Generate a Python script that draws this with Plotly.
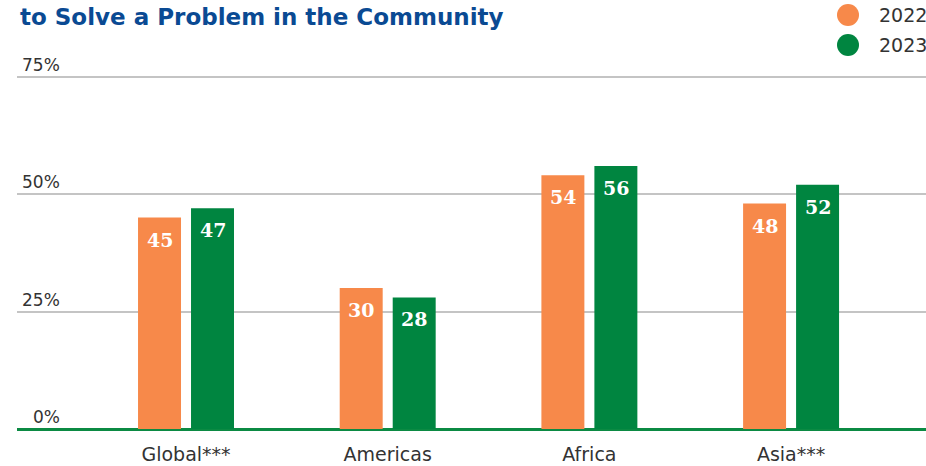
import plotly.graph_objects as go

# Share of respondents, by region and survey year (%)
regions = ["Global***", "Americas", "Africa", "Asia***"]
values_2022 = [45, 30, 54, 48]
values_2023 = [47, 28, 56, 52]
years = ["2022", "2023"]
y_ticks = [0, 25, 50, 75]
y_tick_labels = ["0%", "25%", "50%", "75%"]

ORANGE = "#F7894A"
GREEN = "#008540"
TEXT = "#333333"
FONT = "DejaVu Sans"

# pixel geometry of the plot area
W, H = 926, 466
M_L, M_R, M_T, M_B = 17, 0, 72, 37
PLOT_H = H - M_T - M_B
BAR_OFFSET = 26.5  # px from category centre to each bar centre


def py_to_paper(py):
    return (H - M_B - py) / PLOT_H


fig = go.Figure()

series = [(years[0], values_2022, ORANGE, -BAR_OFFSET),
          (years[1], values_2023, GREEN, BAR_OFFSET)]

for name, vals, color, dx in series:
    fig.add_trace(go.Bar(
        x=regions, y=vals, name=name, marker=dict(color=color, line=dict(width=0)),
        showlegend=False,
    ))
    # value labels just inside the top of each bar
    for r, v in zip(regions, vals):
        fig.add_annotation(
            x=r, y=v, xref="x", yref="y", text=f"<b>{v}</b>", showarrow=False,
            xanchor="center", yanchor="top", xshift=dx, yshift=-9,
            font=dict(family="DejaVu Serif", size=19, color="white"),
        )

# legend: round keys with year labels in the top-right corner
for i, (name, _, color, _) in enumerate(series):
    cy = 15 + 30 * i
    fig.add_shape(
        type="circle", xref="paper", yref="paper",
        xsizemode="pixel", ysizemode="pixel",
        xanchor=(848 - M_L) / (W - M_L - M_R), yanchor=py_to_paper(cy),
        x0=-11, x1=11, y0=-11, y1=11,
        fillcolor=color, line=dict(width=0),
    )
    fig.add_annotation(
        x=(877 - M_L) / (W - M_L - M_R), xref="paper", y=py_to_paper(cy), yref="paper",
        text=name, showarrow=False, xanchor="left", yanchor="middle",
        font=dict(family=FONT, size=19, color=TEXT),
    )

# y tick labels sit above the gridlines, right-aligned
for v, lab in zip(y_ticks, y_tick_labels):
    fig.add_annotation(
        x=0.0495, xref="x domain", y=v, yref="y", text=lab, showarrow=False,
        xanchor="right", yanchor="bottom", yshift=0,
        font=dict(family=FONT, size=17, color=TEXT),
    )

fig.add_annotation(
    x=0, xref="paper", xshift=1, y=py_to_paper(2), yref="paper",
    text="<b>to Solve a Problem in the Community</b>",
    showarrow=False, xanchor="left", yanchor="top",
    font=dict(family=FONT, size=23, color="#0A4A93"),
)

fig.update_layout(
    width=W, height=H,
    margin=dict(l=M_L, r=M_R, t=M_T, b=M_B),
    paper_bgcolor="white", plot_bgcolor="white",
    barmode="group", bargap=0.4745, bargroupgap=0.189,
    showlegend=False,
    xaxis=dict(range=[-0.838, 3.669], showgrid=False, zeroline=False,
               showline=False, ticks="", ticklabelstandoff=12,
               tickfont=dict(family=FONT, size=19, color=TEXT)),
    yaxis=dict(range=[0, 76], tickvals=y_ticks, showticklabels=False,
               showgrid=True, gridcolor="#C4C4C4", gridwidth=1.5,
               zeroline=True, zerolinecolor="#0B8A43", zerolinewidth=3,
               showline=False, ticks=""),
)

fig.write_html("out.html")
